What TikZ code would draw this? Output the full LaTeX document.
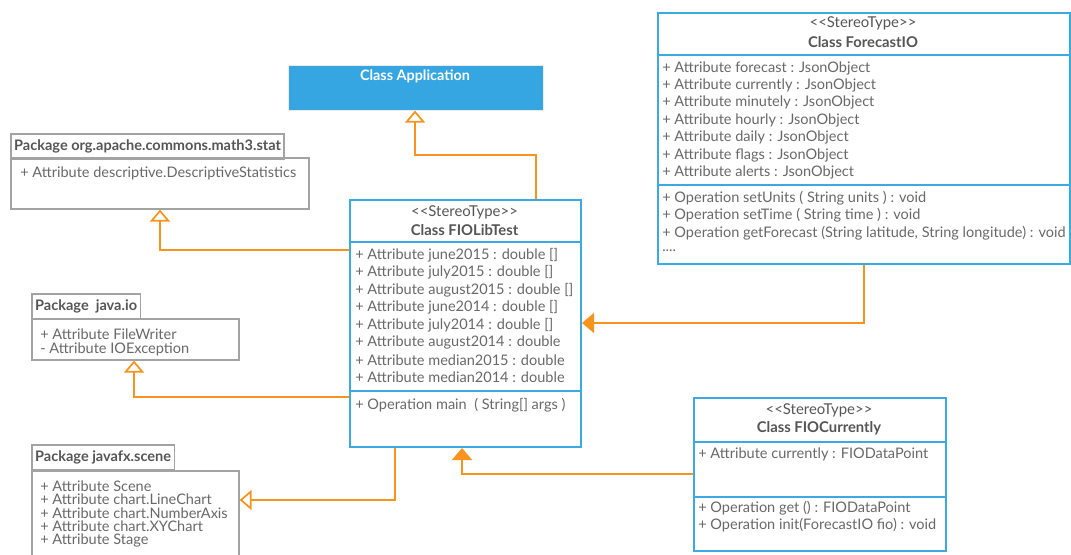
\documentclass[tikz,border=0pt]{standalone}
\usepackage{fontspec}
\setmainfont{Lato}
\usetikzlibrary{arrows.meta}

\definecolor{umlblue}{HTML}{3DA9E1}
\definecolor{appblue}{HTML}{36A6E2}
\definecolor{pkggray}{HTML}{A3A3A3}
\definecolor{txtgray}{HTML}{686868}
\definecolor{headgray}{HTML}{555555}
\definecolor{linkorange}{HTML}{F7941D}

\tikzset{
  umlbox/.style={draw=umlblue, line width=1.5pt, anchor=north west, inner sep=0pt},
  pkgbox/.style={draw=pkggray, line width=1.2pt, anchor=north west, inner sep=0pt},
  pkgtab/.style={draw=pkggray, line width=1.2pt, anchor=north west, inner xsep=2.5pt, inner ysep=0pt,
    minimum height=18.75pt, text=headgray, font=\bfseries\fontsize{10.9}{12}\selectfont},
  member/.style={anchor=west, inner sep=0pt, text=txtgray, font=\fontsize{10.9}{12}\selectfont},
  pkglist/.style={anchor=west, inner sep=0pt, align=left, text=txtgray},
  stereo/.style={inner sep=0pt, text=headgray, font=\fontsize{11.2}{12}\selectfont},
  classname/.style={inner sep=0pt, text=headgray, font=\bfseries\fontsize{11.1}{12}\selectfont},
  sep/.style={draw=umlblue, line width=1.5pt},
  gen/.style={draw=linkorange, line width=1.3pt, -{Triangle[open, fill=white, length=9pt, width=15pt]}},
  assoc/.style={draw=linkorange, line width=1.3pt, -{Triangle[length=9pt, width=15pt]}}
}

\begin{document}
\begin{tikzpicture}[x=0.75pt, y=-0.75pt]
\clip (0,0) rectangle (1071,554);

% Class Application
\node[fill=appblue, draw=black!8, anchor=north west, inner sep=0pt, minimum width=191.25pt, minimum height=33.75pt] (app) at (288,65) {};
\node[inner sep=0pt, text=white, font=\bfseries\fontsize{10.8}{12}\selectfont] (app-name) at (415,76) {Class Application};

% Package org.apache.commons.math3.stat
\node[pkgtab] (math3-tab) at (10,133) {Package org.apache.commons.math3.stat};
\node[pkgbox, minimum width=223.5pt, minimum height=38.25pt] (math3) at (10,157) {};
\node[member] (math3-a1) at (20,173) {+ Attribute descriptive.DescriptiveStatistics};

% Package java.io
\node[pkgtab] (javaio-tab) at (31,293) {Package\ \ java.io};
\node[pkgbox, minimum width=155.25pt, minimum height=30.75pt] (javaio) at (31,318) {};
\node[pkglist, font=\fontsize{10.9}{10.5}\selectfont] (javaio-list) at (40,342)
  {+ Attribute FileWriter\\- Attribute IOException};

% Package javafx.scene
\node[pkgtab] (javafx-tab) at (31,444) {Package javafx.scene};
\node[pkgbox, minimum width=155.25pt, minimum height=67.5pt] (javafx) at (31,470) {};
\node[pkglist, font=\fontsize{10.9}{10.1}\selectfont] (javafx-list) at (40,514)
  {+ Attribute Scene\\+ Attribute chart.LineChart\\+ Attribute chart.NumberAxis\\+ Attribute chart.XYChart\\+ Attribute Stage};

% Class FIOLibTest
\node[umlbox, minimum width=173.25pt, minimum height=185.25pt] (libtest) at (349,199) {};
\draw[sep] (libtest.west |- 0,242) -- (libtest.east |- 0,242);
\draw[sep] (libtest.west |- 0,391) -- (libtest.east |- 0,391);
\node[stereo] (libtest-st) at (464.5,212) {<\kern0pt<StereoType>\kern0pt>};
\node[classname] (libtest-name) at (464.5,230) {Class FIOLibTest};
\foreach \t [count=\i] in {{+ Attribute june2015 : double []}, {+ Attribute july2015 : double []},
  {+ Attribute august2015 : double []}, {+ Attribute june2014 : double []}, {+ Attribute july2014 : double []},
  {+ Attribute august2014 : double}, {+ Attribute median2015 : double}, {+ Attribute median2014 : double}}
  \node[member] (libtest-a\i) at (355,{237.5+17.5*\i}) {\t};
\node[member] (libtest-o1) at (355,405) {+ Operation main\ \ ( String[] args )};

% Class ForecastIO
\node[umlbox, minimum width=309pt, minimum height=188.25pt] (forecast) at (657,12) {};
\draw[sep] (forecast.west |- 0,55) -- (forecast.east |- 0,55);
\draw[sep] (forecast.west |- 0,185) -- (forecast.east |- 0,185);
\node[stereo] (forecast-st) at (863,23) {<\kern0pt<StereoType>\kern0pt>};
\node[classname] (forecast-name) at (863,42) {Class ForecastIO};
\foreach \t [count=\i] in {{+ Attribute forecast : JsonObject}, {+ Attribute currently : JsonObject},
  {+ Attribute minutely : JsonObject}, {+ Attribute hourly : JsonObject}, {+ Attribute daily : JsonObject},
  {+ Attribute flags : JsonObject}, {+ Attribute alerts : JsonObject}}
  \node[member] (forecast-a\i) at (662,{50.6+17.4*\i}) {\t};
\foreach \t [count=\i] in {{+ Operation setUnits ( String units ) : void}, {+ Operation setTime ( String time ) : void},
  {+ Operation getForecast (String latitude, String longitude) : void}}
  \node[member] (forecast-o\i) at (662,{180.4+17.6*\i}) {\t};
\node[member] (forecast-more) at (662,251) {....};

% Class FIOCurrently
\node[umlbox, minimum width=189pt, minimum height=114.75pt] (fiocur) at (693,397) {};
\draw[sep] (fiocur.west |- 0,442) -- (fiocur.east |- 0,442);
\draw[sep] (fiocur.west |- 0,497) -- (fiocur.east |- 0,497);
\node[stereo] (fiocur-st) at (819,410) {<\kern0pt<StereoType>\kern0pt>};
\node[classname] (fiocur-name) at (819,428) {Class FIOCurrently};
\node[member] (fiocur-a1) at (698,454) {+ Attribute currently : FIODataPoint};
\node[member] (fiocur-o1) at (698,508) {+ Operation get () : FIODataPoint};
\node[member] (fiocur-o2) at (698,525) {+ Operation init(ForecastIO fio) : void};

% Connections
\draw[gen] (536,0 |- libtest.north) |- (415,155) -- (415,0 |- app.south);
\draw[gen] (libtest.west |- 0,250) -| (160,0 |- math3.south);
\draw[gen] (libtest.west |- 0,397) -| (134,0 |- javaio.south);
\draw[gen] (395,0 |- libtest.south) |- (javafx.east |- 0,500);
\draw[assoc] (864,0 |- forecast.south) |- (libtest.east |- 0,323);
\draw[assoc] (fiocur.west |- 0,474) -| (462,0 |- libtest.south);
\end{tikzpicture}
\end{document}
